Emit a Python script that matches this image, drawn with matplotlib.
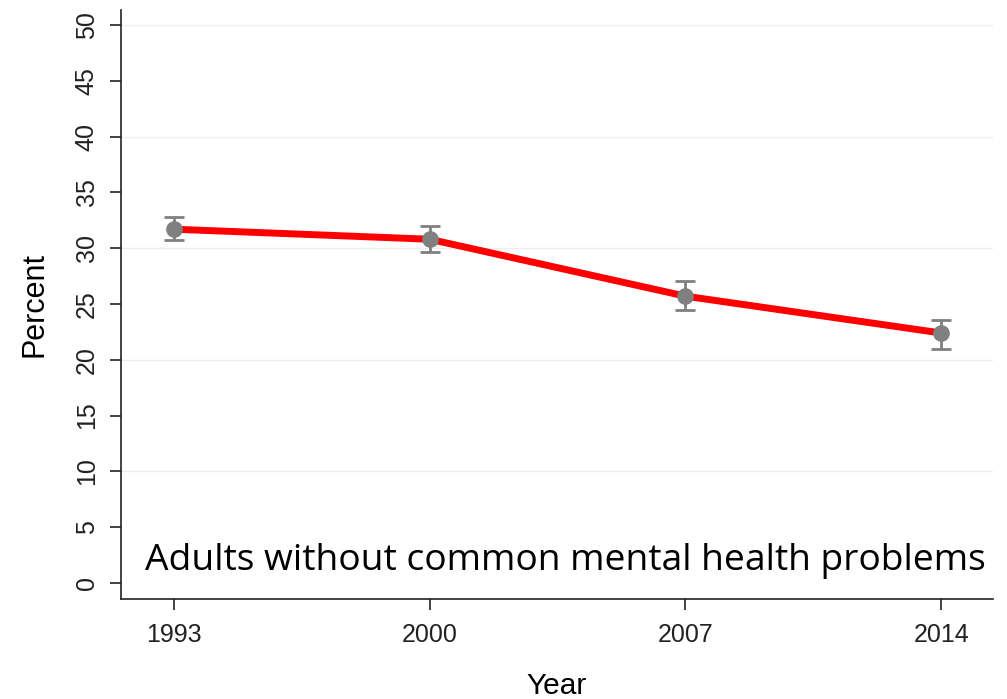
import matplotlib
matplotlib.use('Agg')
from matplotlib import pyplot as plt
import numpy as np

years = [1993, 2000, 2007, 2014]
percent = [31.7, 30.8, 25.7, 22.4]
ci_low = [30.7, 29.7, 24.5, 21.0]
ci_high = [32.8, 32.0, 27.1, 23.6]
y_ticks = [0, 5, 10, 15, 20, 25, 30, 35, 40, 45, 50]
grid_levels = [10, 20, 30, 40, 50]
note = 'Adults without common mental health problems'

plt.rcParams['font.family'] = ['Liberation Sans', 'DejaVu Sans']

fig = plt.figure(figsize=(10.07, 6.99), dpi=100)
ax = fig.add_axes([0.1202, 0.1431, 0.8659, 0.8426])

for g in grid_levels:
    ax.axhline(g, color='#eeeeee', lw=1, zorder=0)

y = np.array(percent)
yerr = np.array([y - np.array(ci_low), np.array(ci_high) - y])
ax.plot(years, percent, color='#ff0000', lw=5, zorder=2, solid_capstyle='round')
ax.errorbar(years, percent, yerr=yerr, fmt='o', color='#808080', ms=11,
            elinewidth=2, capsize=7, capthick=2, zorder=3)

ax.set_xlim(1991.55, 2015.42)
ax.set_ylim(-1.43, 51.34)
ax.set_xticks(years)
ax.set_yticks(y_ticks)
ax.tick_params(axis='both', direction='out', length=8, width=1.2, labelsize=18,
               colors='#222222')
ax.tick_params(axis='x', pad=9)
ax.tick_params(axis='y', pad=8)
for lbl in ax.get_yticklabels():
    lbl.set_rotation(90)
    lbl.set_va('center')

for side in ['top', 'right']:
    ax.spines[side].set_visible(False)
for side in ['left', 'bottom']:
    ax.spines[side].set_linewidth(1.2)
    ax.spines[side].set_color('#222222')

ax.set_xlabel('Year', fontsize=21.5, labelpad=18)
ax.set_ylabel('Percent', fontsize=22, labelpad=18)

ax.text(0.028, 0.034, note, transform=ax.transAxes, fontsize=26.8,
        family=['Open Sans', 'DejaVu Sans'], ha='left', va='bottom', color='black')

fig.savefig('out.png', dpi=100)
